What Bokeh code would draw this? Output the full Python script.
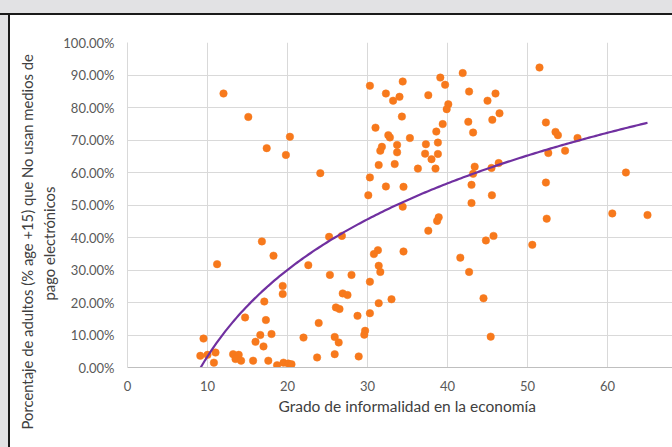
import numpy as np
from bokeh.plotting import figure
from bokeh.models import (ColumnDataSource, FixedTicker, PrintfTickFormatter,
                          Title, Range1d, Div)
from bokeh.layouts import column, row
from bokeh.embed import file_html
from bokeh.resources import INLINE

# --- data ---
informalidad = [
    12.0, 15.1, 20.3, 17.4, 19.8,
    16.8, 18.25, 11.2, 19.4, 19.4, 17.1, 14.7, 17.3, 9.5, 16.6, 18.0, 16.0, 17.0,
    9.1, 10.0, 11.0, 10.8, 13.2, 13.9, 13.5, 14.2, 15.7, 17.6, 18.7, 19.5, 20.1, 20.5, 22.0,
    30.3, 34.4, 39.1, 41.9, 39.7, 32.3, 33.2, 34.0, 37.6, 42.7, 45.0,
    40.1, 39.9, 34.3, 39.4, 42.6, 43.2, 31.0, 38.6, 32.6, 32.8, 35.3, 31.8, 31.6,
    33.7, 33.7, 37.3, 38.8, 37.2, 38.0, 38.8, 31.4, 33.4, 36.3, 38.5, 43.4, 30.3,
    43.0, 32.3, 34.5, 30.1, 43.0, 34.4, 24.1, 43.2,
    38.9, 38.7, 37.6, 25.2, 26.8, 44.8, 31.3, 30.8, 34.5, 22.6, 31.4, 31.6, 25.3,
    28.0, 41.6, 42.7, 30.3, 26.9, 27.5, 31.4, 33.0, 44.5, 26.05, 26.5, 28.75, 30.3,
    23.9, 25.9, 26.4, 29.7, 29.6, 23.7, 25.9, 28.9, 45.4,
    51.5, 46.0, 45.6, 46.5, 52.3, 53.5, 53.8, 56.25, 52.6, 54.7, 45.5, 46.4, 62.3,
    52.3, 45.55, 60.6, 65.0, 52.4, 45.75, 50.6,
]
no_usan_pct = [
    84.3, 77.1, 71.0, 67.5, 65.4,
    38.8, 34.4, 31.8, 25.1, 22.6, 20.3, 15.4, 14.6, 8.9, 10.0, 10.3, 7.9, 6.5,
    3.6, 3.9, 4.6, 1.5, 4.1, 3.9, 2.6, 2.1, 2.1, 2.1, 0.7, 1.5, 1.2, 1.0, 9.2,
    86.7, 88.0, 89.2, 90.6, 87.0, 84.3, 82.1, 83.3, 83.8, 84.9, 82.1,
    81.0, 79.5, 77.2, 74.9, 75.6, 72.3, 73.8, 72.6, 71.5, 70.8, 70.6, 67.9, 66.7,
    68.5, 66.2, 68.7, 69.2, 65.8, 64.1, 65.7, 62.3, 62.6, 61.2, 61.2, 61.8, 58.5,
    56.2, 55.7, 55.6, 53.0, 50.6, 49.5, 59.8, 59.6,
    46.2, 45.1, 42.1, 40.2, 40.5, 39.1, 36.1, 34.9, 35.7, 31.5, 31.3, 29.4, 28.5,
    28.5, 33.8, 29.4, 26.4, 22.8, 22.3, 19.8, 21.0, 21.3, 18.5, 18.0, 15.9, 16.7,
    13.7, 9.4, 7.7, 11.3, 10.1, 3.1, 4.1, 3.4, 9.5,
    92.3, 84.3, 76.2, 78.2, 75.4, 72.5, 71.5, 70.6, 66.0, 66.7, 61.4, 62.9, 60.0,
    56.9, 53.0, 47.4, 46.9, 45.8, 40.5, 37.75,
]

# logarithmic trend line: y = a*ln(x) + b
trend_a = 38.4
trend_b = -85.0
trend_x_start = 9.15
trend_x_end = 65.0

x_ticks = [0, 10, 20, 30, 40, 50, 60]
y_ticks = [0, 10, 20, 30, 40, 50, 60, 70, 80, 90, 100]

x_title = "Grado de informalidad en la economía"
y_title_1 = "Porcentaje de adultos (% age +15) que No usan medios de"
y_title_2 = "pago electrónicos"

FONT = "Lato"
PAGE_W, PAGE_H = 672, 447
TOP_STRIP, LEFT_STRIP = 15, 10
W, H = PAGE_W - LEFT_STRIP, PAGE_H - TOP_STRIP
LEFT, TOP, BOTTOM = 117, 27, 80

p = figure(width=W, height=H, output_backend="svg", toolbar_location=None,
           x_range=Range1d(0, (W - LEFT) / 8.0), y_range=Range1d(0, 100),
           min_border_left=LEFT, min_border_right=0,
           min_border_top=TOP, min_border_bottom=BOTTOM, margin=0)
p.background_fill_color = "white"
p.border_fill_color = "white"
p.outline_line_color = None

# grid
for g in (p.xgrid, p.ygrid):
    g.grid_line_color = "#d9d9d9"
    g.grid_line_width = 1
p.xgrid.ticker = FixedTicker(ticks=x_ticks)
p.ygrid.ticker = FixedTicker(ticks=y_ticks)

# axes
p.xaxis.ticker = FixedTicker(ticks=x_ticks)
p.yaxis.ticker = FixedTicker(ticks=y_ticks)
p.yaxis.formatter = PrintfTickFormatter(format="%.2f%%")
for ax in (p.xaxis, p.yaxis):
    ax.major_tick_line_color = None
    ax.minor_tick_line_color = None
    ax.major_tick_out = 0
    ax.major_tick_in = 0
    ax.major_label_text_font = FONT
    ax.major_label_text_font_size = "13px"
    ax.major_label_text_color = "#595959"
    ax.major_label_standoff = 13
p.xaxis.axis_line_color = "#bfbfbf"
p.yaxis.axis_line_color = "#d9d9d9"

# data
src = ColumnDataSource(dict(x=informalidad, y=no_usan_pct))
p.scatter("x", "y", source=src, size=7.5, fill_color="#f7791c",
          line_color="#f7791c", line_width=0.5)

tx = np.linspace(trend_x_start, trend_x_end, 200)
ty = trend_a * np.log(tx) + trend_b
p.line(tx, ty, line_color="#7030a0", line_width=2.2)

# axis titles as side titles
p.add_layout(Title(text=x_title, text_font=FONT, text_font_size="15.5px",
                   text_font_style="normal", text_color="#404040",
                   align="left", offset=151, standoff=3), "below")
p.add_layout(Title(text=y_title_2, text_font=FONT, text_font_size="14.8px",
                   text_font_style="normal", text_color="#404040",
                   align="left", offset=67, standoff=5), "left")
p.add_layout(Title(text=y_title_1, text_font=FONT, text_font_size="14.8px",
                   text_font_style="normal", text_color="#404040",
                   align="left", offset=-62, standoff=0), "left")

# slide background strips and chart box border
top_div = Div(width=PAGE_W, height=TOP_STRIP, margin=0,
              text=('<div style="width:%dpx;height:13px;background:#e2e2e4"></div>'
                    '<div style="width:%dpx;height:2px;background:#1a1a1a"></div>'
                    % (PAGE_W, PAGE_W)))
left_div = Div(width=LEFT_STRIP, height=H, margin=0,
               text=('<div style="display:flex">'
                     '<div style="width:8px;height:%dpx;background:#e2e2e4"></div>'
                     '<div style="width:2px;height:%dpx;background:#1a1a1a"></div></div>'
                     % (H, H)))

layout = column(top_div, row(left_div, p, spacing=0, margin=0), spacing=0, margin=0)

open("out.html", "w").write(file_html(layout, INLINE))
